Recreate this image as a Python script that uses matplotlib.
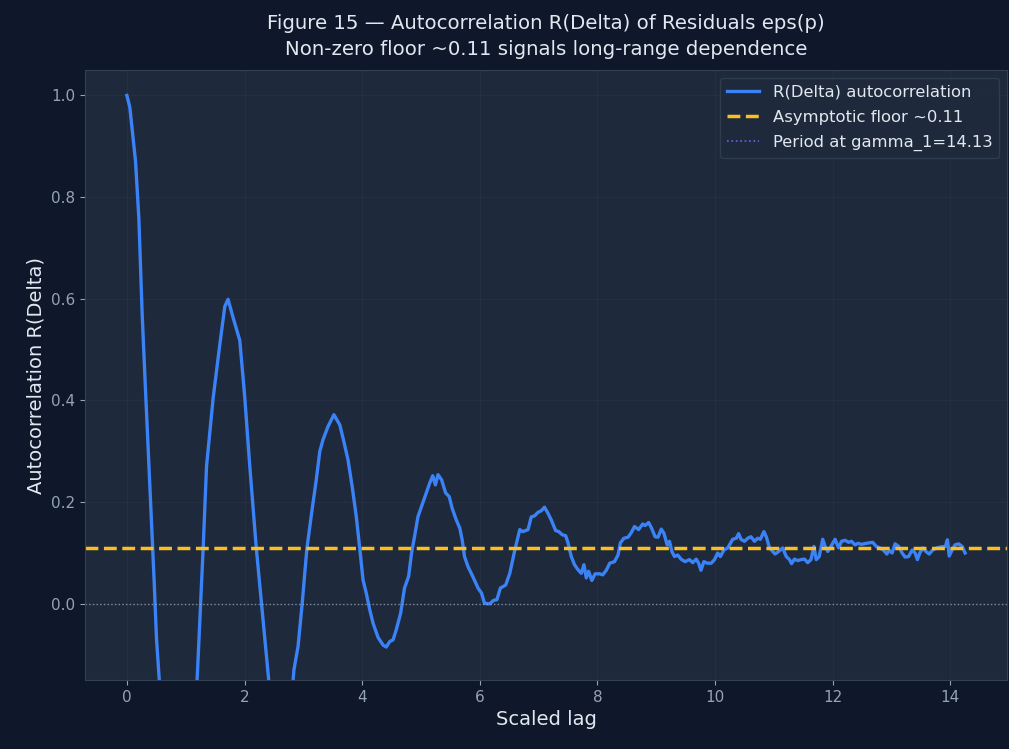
import matplotlib
matplotlib.use("Agg")
import matplotlib.pyplot as plt
from matplotlib.lines import Line2D

# autocorrelation of residuals vs scaled lag
lag = [0.0, 0.05, 0.147, 0.204, 0.26, 0.317, 0.362, 0.42, 0.464, 0.504, 0.55,
       0.6, 0.7, 0.8, 0.9, 1.0, 1.1, 1.15, 1.2, 1.297, 1.354, 1.467, 1.58, 1.665,
       1.72, 1.806, 1.92, 2.005, 2.09, 2.2, 2.29, 2.41, 2.5, 2.6, 2.7, 2.78,
       2.826, 2.84, 2.88, 2.91, 2.98, 3.06, 3.14, 3.22, 3.28, 3.335, 3.42, 3.52,
       3.62, 3.675, 3.76, 3.83, 3.90, 3.96, 4.015, 4.07, 4.13, 4.185, 4.27, 4.355,
       4.41, 4.47, 4.525, 4.58, 4.655, 4.72, 4.79, 4.84, 4.89, 4.95, 5.03, 5.09,
       5.15, 5.20, 5.245, 5.29, 5.35, 5.42, 5.48, 5.53, 5.60, 5.66, 5.70, 5.74,
       5.80, 5.88, 5.97, 6.03, 6.08, 6.17, 6.235, 6.29, 6.35, 6.44, 6.51, 6.59,
       6.68, 6.73, 6.82, 6.875, 6.93, 6.99, 7.045, 7.10, 7.16, 7.215, 7.29, 7.345,
       7.40, 7.46, 7.50, 7.555, 7.61, 7.67, 7.725, 7.77, 7.81, 7.85, 7.905, 7.96,
       8.04, 8.09, 8.15, 8.21, 8.29, 8.35, 8.39, 8.45, 8.52, 8.575, 8.63, 8.70,
       8.77, 8.81, 8.87, 8.92, 8.98, 9.03, 9.085, 9.13, 9.185, 9.225, 9.265, 9.31,
       9.365, 9.42, 9.49, 9.565, 9.62, 9.68, 9.72, 9.76, 9.81, 9.865, 9.935, 9.99,
       10.045, 10.09, 10.15, 10.215, 10.30, 10.36, 10.40, 10.44, 10.50, 10.555,
       10.61, 10.67, 10.725, 10.77, 10.83, 10.87, 10.925, 10.98, 11.02, 11.08,
       11.15, 11.21, 11.265, 11.30, 11.35, 11.405, 11.46, 11.52, 11.575, 11.63,
       11.68, 11.72, 11.77, 11.83, 11.87, 11.915, 11.97, 12.04, 12.10, 12.15,
       12.21, 12.27, 12.32, 12.38, 12.43, 12.49, 12.57, 12.68, 12.74, 12.80,
       12.86, 12.92, 12.96, 13.01, 13.06, 13.12, 13.18, 13.23, 13.29, 13.35,
       13.40, 13.44, 13.48, 13.53, 13.585, 13.64, 13.70, 13.77, 13.84, 13.915,
       13.95, 13.98, 14.03, 14.08, 14.14, 14.20, 14.25]
r_delta = [1.0, 0.977, 0.871, 0.758, 0.570, 0.420, 0.307, 0.157, 0.044, -0.069, -0.148,
           -0.23, -0.38, -0.47, -0.50, -0.45, -0.31, -0.24, -0.135, 0.11, 0.27, 0.405, 0.51, 0.585,
           0.599, 0.563, 0.518, 0.405, 0.27, 0.11, 0.0, -0.148, -0.27, -0.32, -0.30, -0.22,
           -0.15, -0.13, -0.104, -0.084, 0.0, 0.108, 0.178, 0.244, 0.30, 0.323, 0.349, 0.372,
           0.352, 0.326, 0.283, 0.231, 0.172, 0.108, 0.047, 0.021, -0.012, -0.038, -0.066, -0.081,
           -0.085, -0.074, -0.071, -0.051, -0.018, 0.031, 0.054, 0.10, 0.132, 0.172, 0.198, 0.218,
           0.238, 0.252, 0.234, 0.254, 0.244, 0.218, 0.211, 0.188, 0.165, 0.149, 0.126, 0.093,
           0.073, 0.054, 0.031, 0.021, 0.001, 0.0, 0.007, 0.008, 0.031, 0.037, 0.06, 0.103,
           0.146, 0.142, 0.146, 0.171, 0.173, 0.18, 0.183, 0.19, 0.178, 0.165, 0.144, 0.142,
           0.136, 0.134, 0.12, 0.093, 0.077, 0.067, 0.06, 0.077, 0.051, 0.064, 0.046, 0.059,
           0.059, 0.057, 0.066, 0.08, 0.083, 0.096, 0.12, 0.129, 0.131, 0.14, 0.152, 0.146,
           0.157, 0.154, 0.16, 0.149, 0.132, 0.131, 0.147, 0.139, 0.116, 0.123, 0.103, 0.093,
           0.096, 0.088, 0.083, 0.087, 0.081, 0.088, 0.08, 0.066, 0.083, 0.08, 0.08, 0.087,
           0.10, 0.093, 0.106, 0.11, 0.127, 0.129, 0.138, 0.127, 0.123, 0.129,
           0.132, 0.123, 0.129, 0.127, 0.142, 0.132, 0.11, 0.103, 0.098, 0.103,
           0.11, 0.093, 0.087, 0.079, 0.088, 0.085, 0.087, 0.088, 0.081, 0.087,
           0.113, 0.087, 0.093, 0.127, 0.113, 0.103, 0.113, 0.127, 0.11, 0.123,
           0.125, 0.121, 0.123, 0.116, 0.119, 0.117, 0.119, 0.121, 0.113, 0.11,
           0.106, 0.098, 0.105, 0.10, 0.118, 0.113, 0.10, 0.092, 0.093, 0.106,
           0.10, 0.087, 0.10, 0.11, 0.103, 0.098, 0.106, 0.11, 0.112, 0.113,
           0.126, 0.094, 0.106, 0.116, 0.118, 0.113, 0.10]

floor_level = 0.11
gamma_1 = 14.13

bg = "#0f172a"
panel = "#1e293b"
text_c = "#e2e8f0"
tick_c = "#94a3b8"

fig = plt.figure(figsize=(10.09, 7.49), dpi=100, facecolor=bg)
ax = fig.add_axes([0.0842, 0.092, 0.9138, 0.8145])
ax.set_facecolor(panel)

ax.plot(lag, r_delta, color="#3b82f6", linewidth=2.4, label="R(Delta) autocorrelation")
ax.axhline(floor_level, color="#fbbf24", linestyle="--", linewidth=2.5,
           label="Asymptotic floor ~0.11")
ax.axhline(0, color=tick_c, linestyle=":", linewidth=1, alpha=0.8)

ax.set_ylim(-0.15, 1.05)
ax.grid(True, color="#334155", alpha=0.3, linewidth=0.8)
for s in ax.spines.values():
    s.set_color("#334155")
ax.tick_params(colors=tick_c, labelsize=11)

ax.set_xlabel("Scaled lag", color=text_c, fontsize=14)
ax.set_ylabel("Autocorrelation R(Delta)", color=text_c, fontsize=14)
ax.set_title("Figure 15 \u2014 Autocorrelation R(Delta) of Residuals eps(p)\n"
             "Non-zero floor ~0.11 signals long-range dependence",
             color=text_c, fontsize=14.2, pad=11, linespacing=1.42)

handles, labels = ax.get_legend_handles_labels()
handles.append(Line2D([], [], color="#6366f1", linestyle=":", linewidth=1.2))
labels.append(f"Period at gamma_1={gamma_1}")
leg = ax.legend(handles, labels, loc="upper right", fontsize=11.8, labelspacing=0.62,
                facecolor=panel, edgecolor="#334155", labelcolor=text_c)

fig.savefig("out.png", dpi=100, facecolor=bg)
